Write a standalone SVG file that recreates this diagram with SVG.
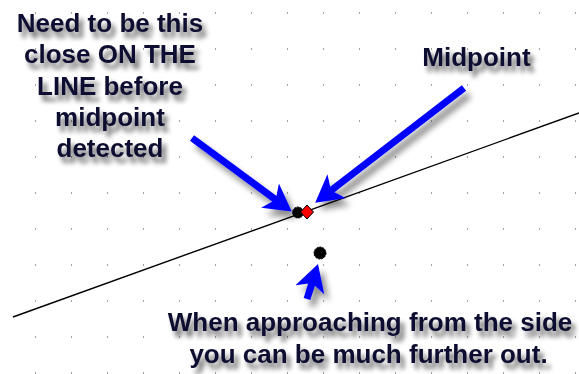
<svg xmlns="http://www.w3.org/2000/svg" width="579" height="374" viewBox="0 0 579 374">
<style>
.lbl{font-family:"Liberation Sans",Arial,sans-serif;font-weight:bold;font-size:26px;fill:#111130;text-anchor:middle;filter:url(#tsh)}
.arr{stroke:#0000ff;stroke-width:7;fill:none;marker-end:url(#head)}
</style>
<defs>
<pattern id="grid" patternUnits="userSpaceOnUse" x="0" y="13" width="36" height="36">
<rect x="35" y="-0.8" width="1.6" height="1.6" fill="#8a8a8a"/>
<rect x="35" y="35.2" width="1.6" height="1.6" fill="#8a8a8a"/>
</pattern>
<filter id="tsh" x="-20%" y="-40%" width="140%" height="200%">
<feGaussianBlur in="SourceAlpha" stdDeviation="2.5"/>
<feOffset dx="4" dy="6" result="b"/>
<feComponentTransfer><feFuncA type="linear" slope="0.6"/></feComponentTransfer>
<feMerge><feMergeNode/><feMergeNode in="SourceGraphic"/></feMerge>
</filter>
<filter id="ash" x="-30%" y="-30%" width="160%" height="160%">
<feGaussianBlur in="SourceAlpha" stdDeviation="3"/>
<feOffset dx="5" dy="7" result="b"/>
<feComponentTransfer><feFuncA type="linear" slope="0.45"/></feComponentTransfer>
<feMerge><feMergeNode/><feMergeNode in="SourceGraphic"/></feMerge>
</filter>
<marker id="head" markerUnits="userSpaceOnUse" markerWidth="32" markerHeight="32" refX="14" refY="15" orient="auto">
<path d="M27,15 L0,0 L7,15 L0,30 Z" fill="#0000ff"/>
</marker>
</defs>
<rect width="579" height="374" fill="#ffffff"/>
<rect width="579" height="374" fill="url(#grid)"/>
<line x1="13" y1="317" x2="579" y2="113" stroke="#000" stroke-width="1.4"/>
<g id="connectors" filter="url(#ash)">
<line class="arr" x1="192" y1="138" x2="281.3" y2="203.9"/>
<line class="arr" x1="464" y1="88" x2="325.5" y2="194.7"/>
<line class="arr" x1="307" y1="299" x2="314.1" y2="276.4"/>
</g>
<g id="points">
<circle id="point-line" cx="298" cy="212.5" r="5.5" fill="#000" stroke="#000" stroke-width="1" stroke-dasharray="2 1"/>
<path id="midpoint" d="M307,205 L313.5,212 L307,219 L300.5,212 Z" fill="#ff0000" stroke="#000" stroke-width="1"/>
<circle id="point-side" cx="320" cy="253" r="6" fill="#000" stroke="#000" stroke-width="1" stroke-dasharray="2 1"/>
</g>
<g id="label-close">
<text class="lbl" x="110" y="32">Need to be this</text>
<text class="lbl" x="110" y="63">close ON THE</text>
<text class="lbl" x="110" y="94.5">LINE before</text>
<text class="lbl" x="110" y="126">midpoint</text>
<text class="lbl" x="110" y="157">detected</text>
</g>
<g id="label-midpoint">
<text class="lbl" x="476.5" y="66">Midpoint</text>
</g>
<g id="label-side">
<text class="lbl" x="370" y="331">When approaching from the side</text>
<text class="lbl" x="368.5" y="363">you can be much further out.</text>
</g>
</svg>
